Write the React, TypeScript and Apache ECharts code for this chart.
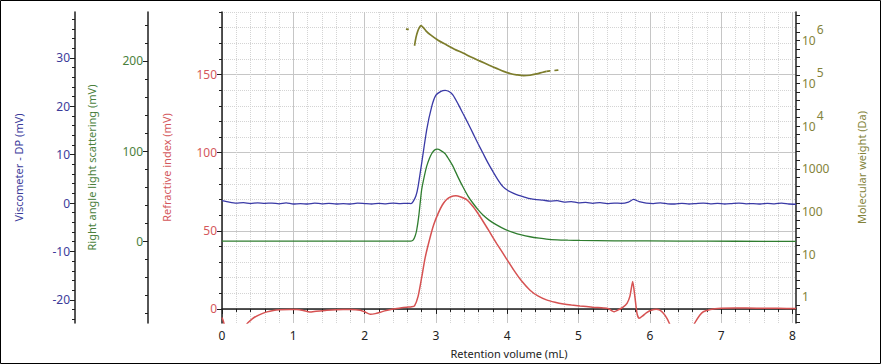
import React, { useEffect, useRef } from 'react';
import * as echarts from 'echarts';

// ---- tick labels ----
const xTickLabels = [0, 1, 2, 3, 4, 5, 6, 7, 8];
const viscTicks = [-20, -10, 0, 10, 20, 30];
const lsTicks = [0, 100, 200];
const riTicks = [0, 50, 100, 150];
const mwLogTicks = [0, 1, 2, 3, 4, 5, 6];

// ---- Viscometer - DP (mV) ----
const viscX = [0, 0.1, 0.2, 0.3, 0.4, 0.5, 0.6, 0.7, 0.8, 0.9, 1.0, 1.1, 1.2, 1.3, 1.4, 1.5, 1.6, 1.7, 1.8, 1.9, 2.0, 2.1, 2.2, 2.3, 2.4, 2.5, 2.6, 2.65,
  2.68, 2.72, 2.75, 2.8, 2.87, 2.94, 3.0, 3.07, 3.13, 3.19, 3.24, 3.31, 3.38, 3.45, 3.52, 3.59, 3.66, 3.73, 3.8, 3.87, 3.94, 4.01, 4.09, 4.16, 4.23, 4.32, 4.41,
  4.5, 4.6, 4.7, 4.8, 4.9, 5.0, 5.1, 5.2, 5.3, 5.4, 5.5, 5.6, 5.7, 5.77, 5.85, 5.95, 6.05, 6.15, 6.25, 6.35, 6.45, 6.55, 6.65, 6.75, 6.85, 6.95,
  7.05, 7.15, 7.25, 7.35, 7.45, 7.55, 7.65, 7.75, 7.85, 7.95, 8.05];
const viscY = [0.5, 0.2, 0.0, 0.1, -0.1, 0.05, -0.05, 0.0, -0.15, 0.05, -0.2, -0.1, -0.2, 0.0, -0.15, -0.05, -0.2, -0.1, -0.2, 0.0, -0.1, -0.2, -0.05, -0.15, 0.0, -0.1, -0.05, -0.1,
  0.3, 1.5, 3.4, 8.2, 15.1, 19.9, 22.3, 23.1, 23.3, 23.0, 22.3, 20.5, 18.5, 16.5, 14.4, 12.3, 10.3, 8.3, 6.5, 4.8, 3.4, 2.6, 2.0, 1.6, 1.3, 0.9, 0.7,
  0.6, 0.4, 0.5, 0.2, 0.3, 0.05, 0.15, -0.05, 0.1, -0.1, 0.0, -0.05, 0.2, 0.75, 0.3, 0.0, -0.1, 0.05, -0.15, -0.2, -0.05, -0.2, -0.1, 0.0, -0.15, -0.05,
  -0.2, -0.1, 0.0, -0.15, -0.1, -0.2, -0.05, -0.15, 0.0, -0.2, -0.25];

// ---- Right angle light scattering (mV) ----
const lsX = [0, 2.65, 2.68, 2.71, 2.73, 2.76, 2.8, 2.84, 2.87, 2.91, 2.94, 2.98, 3.02, 3.07, 3.13, 3.18, 3.24, 3.31, 3.38, 3.45, 3.52, 3.59, 3.66, 3.75,
  3.85, 3.97, 4.09, 4.2, 4.32, 4.45, 4.55, 4.7, 4.85, 5.02, 5.5, 6.42, 7.2, 8.05];
const lsY = [0, 0, 1, 6, 12, 28, 57, 73, 83, 92, 97, 101, 102, 100.5, 97, 91, 83, 71, 60, 50, 42, 35, 29, 23,
  18, 13, 9.3, 6.8, 4.8, 3.2, 2.2, 1.4, 1.0, 0.7, 0.3, 0, -0.2, -0.3];

// ---- Refractive index (mV) ----
const riX = [0, 0.02, 0.04, 0.06, 0.2, 0.3, 0.35, 0.4, 0.44, 0.53, 0.63, 0.72, 0.81, 0.95, 1.05, 1.14, 1.23, 1.32, 1.47, 1.6, 1.8, 1.94, 2.0, 2.08, 2.15,
  2.22, 2.3, 2.4, 2.5, 2.59, 2.66, 2.7, 2.75, 2.8, 2.85, 2.92, 2.97, 3.03, 3.09, 3.15, 3.21, 3.28, 3.35, 3.43, 3.52, 3.62, 3.73, 3.85, 3.97, 4.09,
  4.2, 4.32, 4.43, 4.55, 4.67, 4.79, 4.9, 5.02, 5.2, 5.35, 5.42, 5.47, 5.5, 5.55, 5.62, 5.68, 5.72, 5.76, 5.79, 5.82, 5.85, 5.9, 5.95, 6.02, 6.09,
  6.14, 6.19, 6.24, 6.27, 6.32, 6.45, 6.6, 6.63, 6.7, 6.75, 6.85, 7.0, 7.2, 7.5, 7.8, 8.05];
const riY = [-5.5, -8, -12, -18, -30, -15, -9.5, -7.3, -5.8, -3.6, -1.9, -1.0, -0.6, -0.4, -0.4, -1.0, -2.0, -1.5, -0.8, -0.5, -0.4, -0.8, -1.8, -3.4, -3.0,
  -2.1, -1.0, 0, 0.6, 1.1, 1.4, 2.0, 8, 20, 33, 46, 54, 61, 66.5, 70, 71.8, 72.4, 71.6, 70, 65.5, 59, 51, 42, 33.5, 25,
  18, 12, 8.3, 5.8, 4.3, 3.2, 2.5, 1.9, 1.1, 0.6, 0.2, -1.2, -1.8, -0.8, 1.0, 3.6, 8, 17.5, 8, -2.8, -6, -4.5, -2.5, -0.8, -0.2,
  -0.8, -2.8, -6, -8.8, -14, -25, -12, -9, -4, -1.8, -0.3, 0.4, 0.6, 0.5, 0.4, 0.3];

// ---- Molecular weight (Da), stored as log10 ----
const mwX = [2.7, 2.72, 2.745, 2.77, 2.79, 2.82, 2.86, 2.92, 3.03, 3.15, 3.26, 3.38, 3.5, 3.62, 3.74, 3.85, 3.95, 4.04, 4.13, 4.23, 4.32, 4.41, 4.5, 4.55];
const mwLog = [5.88, 6.07, 6.22, 6.31, 6.35, 6.31, 6.23, 6.14, 6.01, 5.9, 5.8, 5.71, 5.61, 5.52, 5.43, 5.35, 5.28, 5.23, 5.2, 5.18, 5.19, 5.22, 5.26, 5.28];
const mwTailX = [4.55, 4.6, 4.66, 4.71, 4.76];
const mwTailLog = [5.28, 5.29, 5.3, 5.31, 5.32];
const mwHeadX = [2.58, 2.62];
const mwHeadLog = [6.27, 6.265];

const zip = (xs: number[], ys: number[]) => xs.map((x, i) => [x, ys[i]]);
const steps = (a: number, b: number, s: number, skip: number) => {
  const out: number[] = [];
  for (let k = Math.round(a / s); k * s <= b + 1e-9; k++) {
    const v = +(k * s).toFixed(4);
    if (Math.abs(v / skip - Math.round(v / skip)) > 1e-6) out.push(v);
  }
  return out;
};

const C_VISC = '#3a3aa6';
const C_LS = '#2f7d2f';
const C_RI = '#d65252';
const C_MW = '#7d7d2c';
const C_VISC_T = '#3b3b9a';
const C_LS_T = '#4a7f3c';
const C_RI_T = '#d4575b';
const C_MW_T = '#83833a';
const AX = '#1e1e1e';
const FONT = "'Noto Sans', sans-serif";

export default function App() {
  const ref = useRef<HTMLDivElement>(null);
  useEffect(() => {
    if (!ref.current) return;
    const chart = echarts.init(ref.current, undefined, { renderer: 'svg' });
    const axisLine = { show: true, lineStyle: { color: AX, width: 1.5 } };
    const nameStyle = (c: string) => ({ color: c, fontSize: 11, fontFamily: FONT });
    const yMain = (offset: number, min: number, max: number, ticks: number[], color: string, name: string, gap: number) => ({
      type: 'value', position: 'left', offset, min, max, name, nameLocation: 'middle', nameGap: gap,
      nameTextStyle: nameStyle(color),
      axisLine, axisTick: { show: true, length: 5, customValues: ticks, lineStyle: { color: AX } },
      axisLabel: { customValues: ticks, color, fontSize: 12, fontFamily: FONT, margin: 5 },
      splitLine: { show: false },
    });
    const yMinor = (offset: number, min: number, max: number, ticks: number[], split: boolean) => ({
      type: 'value', position: 'left', offset, min, max,
      axisLine: { show: false },
      axisTick: { show: true, length: 3, customValues: ticks, lineStyle: { color: AX } },
      axisLabel: { show: false },
      splitLine: split ? { show: true, lineStyle: { color: '#d4d4d4', type: 'dotted' } } : { show: false },
    });
    const riMain: any = yMain(0, -9, 190, riTicks, C_RI_T, 'Refractive index (mV)', 50);
    riMain.splitLine = { show: true, lineStyle: { color: '#c6c6c6', width: 1 } };
    chart.setOption({
      animation: false,
      textStyle: { fontFamily: FONT },
      graphic: [{ type: 'rect', shape: { x: 0.5, y: 0.5, width: 880, height: 363 }, style: { fill: 'none', stroke: '#000', lineWidth: 1 }, z: 100 }],
      grid: { left: 222, right: 85, top: 12, bottom: 41 },
      xAxis: [
        {
          type: 'value', min: 0, max: 8.05, name: 'Retention volume (mL)', nameLocation: 'middle', nameGap: 25,
          nameTextStyle: { color: '#222', fontSize: 11, fontFamily: FONT },
          axisLine, axisTick: { show: true, length: 5, customValues: xTickLabels, lineStyle: { color: AX } },
          axisLabel: { customValues: xTickLabels, color: '#222', fontSize: 12, fontFamily: FONT, margin: 6 },
          splitLine: { show: true, lineStyle: { color: '#c6c6c6', width: 1 } },
        },
        {
          type: 'value', min: 0, max: 8.05, position: 'bottom',
          axisLine: { show: false },
          axisTick: { show: true, length: 3, customValues: steps(0, 8.05, 0.2, 1), lineStyle: { color: AX } },
          axisLabel: { show: false },
          splitLine: { show: true, lineStyle: { color: '#d4d4d4', type: 'dotted' } },
        },
      ],
      yAxis: [
        riMain,
        yMinor(0, -9, 190, steps(-9, 190, 10, 50), true),
        yMain(147, -24.8, 39.5, viscTicks, C_VISC_T, 'Viscometer - DP (mV)', 51),
        yMinor(147, -24.8, 39.5, steps(-24.8, 39.5, 2, 10), false),
        yMain(74, -91, 254.4, lsTicks, C_LS_T, 'Right angle light scattering (mV)', 51),
        yMinor(74, -91, 254.4, steps(-91, 254.4, 20, 100), false),
        {
          type: 'value', position: 'right', offset: 0, min: -0.61, max: 6.67,
          name: 'Molecular weight (Da)', nameLocation: 'middle', nameGap: 60, nameRotate: 90,
          nameTextStyle: nameStyle(C_MW_T),
          axisLine, axisTick: { show: true, length: 4, customValues: steps(-0.6, 6.67, 0.2, 1000), lineStyle: { color: AX } },
          axisLabel: {
            customValues: mwLogTicks, color: C_MW_T, fontSize: 12, fontFamily: FONT, margin: 6,
            formatter: (v: number) => {
              const n = Math.round(v);
              return n <= 3 ? String(Math.pow(10, n)) : `{b|10}{s|${n}}`;
            },
            rich: {
              b: { color: C_MW_T, fontSize: 12, fontFamily: FONT, verticalAlign: 'middle' },
              s: { color: C_MW_T, fontSize: 12, fontFamily: FONT, verticalAlign: 'middle', padding: [0, 0, 22, 1] },
            },
          },
          splitLine: { show: false },
        },
      ],
      series: [
        { type: 'line', name: 'RI', xAxisIndex: 0, yAxisIndex: 0, data: zip(riX, riY), showSymbol: false, smooth: 0.2, lineStyle: { color: C_RI, width: 1.5 }, z: 3 },
        { type: 'line', name: 'LS', xAxisIndex: 0, yAxisIndex: 4, data: zip(lsX, lsY), showSymbol: false, smooth: 0.2, lineStyle: { color: C_LS, width: 1.3 }, z: 4 },
        { type: 'line', name: 'Visc', xAxisIndex: 0, yAxisIndex: 2, data: zip(viscX, viscY), showSymbol: false, smooth: 0.2, lineStyle: { color: C_VISC, width: 1.3 }, z: 5 },
        { type: 'line', name: 'MW', xAxisIndex: 0, yAxisIndex: 6, data: zip(mwX, mwLog), showSymbol: false, smooth: 0.3, lineStyle: { color: C_MW, width: 1.7 }, z: 6 },
        { type: 'line', name: 'MWtail', xAxisIndex: 0, yAxisIndex: 6, data: zip(mwTailX, mwTailLog), showSymbol: false, lineStyle: { color: C_MW, width: 1.7, type: [4, 4] }, z: 6 },
        { type: 'line', name: 'MWhead', xAxisIndex: 0, yAxisIndex: 6, data: zip(mwHeadX, mwHeadLog), showSymbol: false, lineStyle: { color: C_MW, width: 1.7 }, z: 6 },
      ],
    });
    return () => chart.dispose();
  }, []);
  return <div ref={ref} style={{ position: 'fixed', left: 0, top: 0, width: 881, height: 364, background: '#fff' }} />;
}
